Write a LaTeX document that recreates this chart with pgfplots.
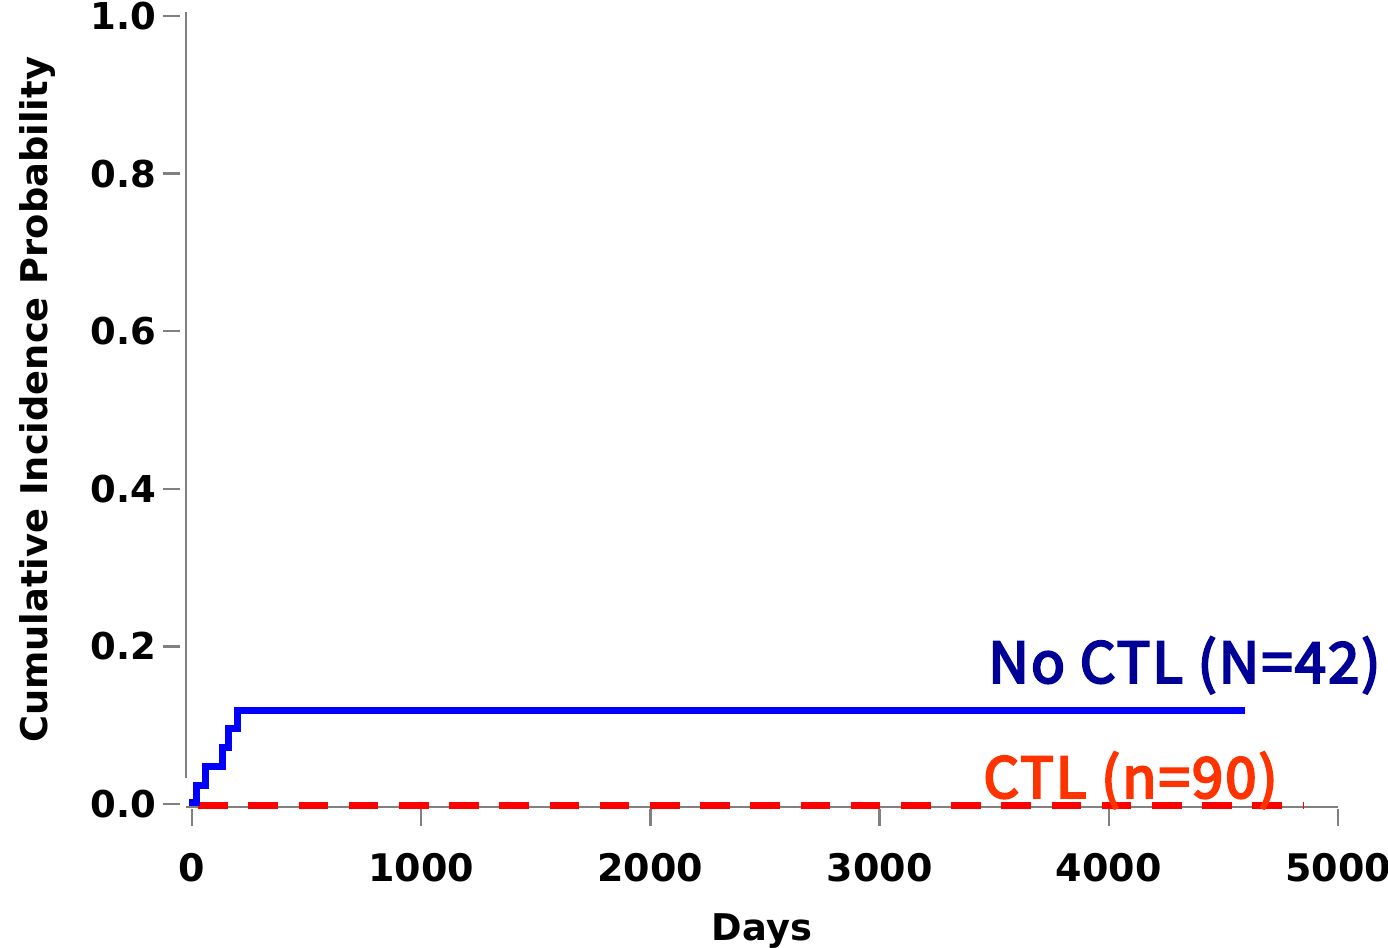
\documentclass[border=0pt]{standalone}
\usepackage{pgfplots}
\pgfplotsset{compat=1.18}
\usepackage{fontspec}
\setmainfont{DejaVu Sans}
\newfontfamily\cjk[FakeBold=4, LetterSpace=4]{Noto Sans CJK JP}
\definecolor{axgray}{RGB}{128,128,128}
\definecolor{curveblue}{RGB}{0,0,255}
\definecolor{curvered}{RGB}{255,0,0}
\definecolor{txtblue}{RGB}{0,0,150}
\definecolor{txtred}{RGB}{255,51,0}
\begin{document}
\begin{tikzpicture}
\useasboundingbox (0,0) rectangle (694pt,474pt);
\begin{axis}[
  at={(93pt,70.5pt)}, anchor=south west,
  scale only axis, width=576pt, height=397.5pt,
  xmin=-26, xmax=5000, ymin=-0.0038, ymax=1.005,
  clip=false,
  axis x line*=bottom, axis y line*=left,
  x axis line style={axgray, line width=1.25pt, -},
  y axis line style={draw=none},
  xtick={0,1000,2000,3000,4000,5000},
  ytick={0,0.2,0.4,0.6,0.8,1.0},
  tick align=outside, major tick length=8.5pt,
  xtick style={axgray, line width=1.25pt, yshift=-1pt},
  ytick style={axgray, line width=1.25pt, xshift=-3pt},
  /pgf/number format/assume math mode=true,
  /pgf/number format/1000 sep={},
  yticklabel style={/pgf/number format/fixed, /pgf/number format/precision=1,
    /pgf/number format/fixed zerofill, font=\bfseries\fontsize{18.5}{20}\selectfont, xshift=-3pt},
  xticklabel style={font=\bfseries\fontsize{19}{21}\selectfont, yshift=-11pt},
  xlabel={Days},
  ylabel={Cumulative Incidence Probability},
  label style={font=\bfseries\fontsize{18.4}{20}\selectfont},
  xlabel style={at={(axis description cs:0.5,-0.156)}, anchor=center},
  ylabel style={at={(axis description cs:-0.129,0.512)}, anchor=center},
]
\draw[axgray, line width=1.25pt] (axis cs:-26,0.033) -- (axis cs:-26,1.005);
\addplot[curvered, line width=3.6pt, dash pattern=on 14.8pt off 10.3pt, dash phase=22pt]
  coordinates {(0,-0.002) (4847,-0.002)};
\addplot[curveblue, line width=3.5pt, const plot]
  coordinates {(-12,0.002) (20,0.0238) (60,0.0476) (132,0.0714) (161,0.0952) (198,0.119) (4594,0.119)};
\node[anchor=west, inner sep=0pt, text=txtblue, font=\cjk\fontsize{28}{30}\selectfont] at (axis cs:3473,0.176) {No CTL (N=42)};
\node[anchor=west, inner sep=0pt, text=txtred, font=\cjk\fontsize{28}{30}\selectfont] at (axis cs:3451,0.030) {CTL (n=90)};
\end{axis}
\end{tikzpicture}
\end{document}
